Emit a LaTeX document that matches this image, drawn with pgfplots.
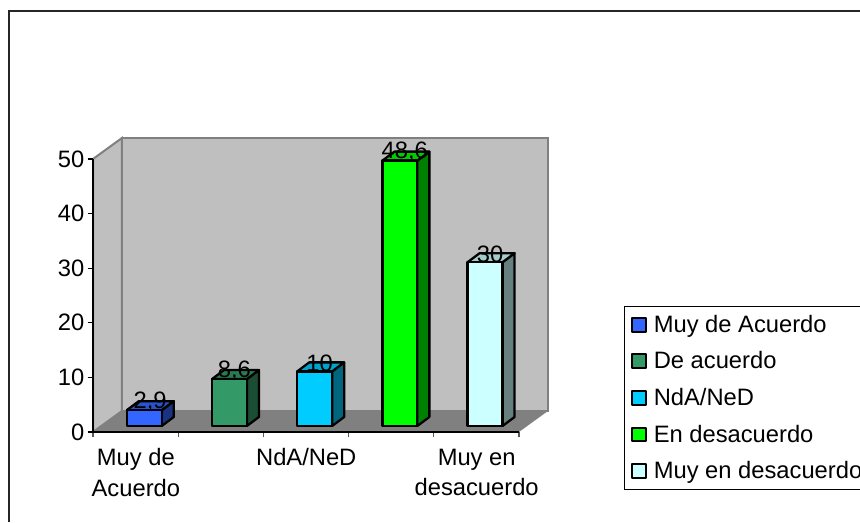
\documentclass[border=0pt]{standalone}
\usepackage{fontspec}
\setmainfont{Liberation Sans}
\usepackage{pgfplots}
\pgfplotsset{compat=1.18}
\definecolor{cA}{HTML}{3366FF}\definecolor{cAs}{HTML}{1A3380}\definecolor{cAt}{HTML}{2952CC}
\definecolor{cB}{HTML}{339966}\definecolor{cBs}{HTML}{1A4D33}\definecolor{cBt}{HTML}{297A52}
\definecolor{cC}{HTML}{00CCFF}\definecolor{cCs}{HTML}{006680}\definecolor{cCt}{HTML}{00A3CC}
\definecolor{cD}{HTML}{00FF00}\definecolor{cDs}{HTML}{008000}\definecolor{cDt}{HTML}{00CC00}
\definecolor{cE}{HTML}{CCFFFF}\definecolor{cEs}{HTML}{668080}\definecolor{cEt}{HTML}{A3CCCC}
\pgfplotsset{
  face/.style={draw=black,line width=1.7pt,line join=round},
  swatch/.style={legend image code/.code={\draw[##1,line width=1.5pt] (0pt,-5.2pt) rectangle (10.5pt,5.2pt);}},
}
\begin{document}
\begin{tikzpicture}
\draw[black!85,line width=1.3pt] (6.5pt,1pt) -- (6.5pt,384.2pt) -- (660pt,384.2pt);
\begin{axis}[
  at={(69.75pt,68.25pt)},anchor=south west,
  scale only axis,width=319.5pt,height=204.75pt,
  xmin=0,xmax=5,ymin=0,ymax=50,clip=false,axis on top,
  axis x line=bottom,axis y line=left,
  axis line style={-,black,line width=0.9pt},
  tick style={black,line width=0.9pt},
  x tick style={black!65,line width=0.8pt},
  major tick length=4pt,
  tick align=outside,
  xtick={0,1,2,3,4,5},xticklabels={},
  extra x ticks={0.5,2.5,4.5},
  extra x tick labels={Muy de\\Acuerdo,NdA/NeD,Muy en\\desacuerdo},
  extra x tick style={major tick length=0pt,tick style={draw=none},
    xticklabel style={align=center,yshift=-9pt,xshift=0.2pt}},
  ytick={0,10,20,30,40,50},
  /pgf/number format/assume math mode=true,
  tick label style={font=\fontsize{17.8pt}{23.2pt}\selectfont},
  yticklabel style={xshift=1pt},
  legend style={at={(1.2465,0.4615)},anchor=north west,draw=black,line width=0.9pt,
    font=\fontsize{17.8pt}{21pt}\selectfont,cells={anchor=west},
    row sep=9.0pt,inner xsep=4.5pt,inner ysep=4.5pt,legend columns=1,
    nodes={inner xsep=5.4pt}},
]
% walls and floor
\addplot[forget plot,fill=black!25,draw=black!50,line width=1.5pt]
  coordinates {(0,0)(0,50)(0.34,53.85)(0.34,3.85)} --cycle;
\addplot[forget plot,fill=black!25,draw=black!50,line width=1.5pt]
  coordinates {(0.34,3.85)(0.34,53.85)(5.34,53.85)(5.34,3.85)} --cycle;
\addplot[forget plot,fill=black!50,draw=none]
  coordinates {(0,0)(0.34,3.85)(5.34,3.85)(5,0)} --cycle;
% bar 1: 2.9
\addplot[forget plot,face,fill=cAs] coordinates {(0.807,1.1)(0.948,2.75)(0.948,5.65)(0.807,4.0)} --cycle;
\addplot[forget plot,face,fill=cAt] coordinates {(0.397,4.0)(0.538,5.65)(0.948,5.65)(0.807,4.0)} --cycle;
\addplot[face,fill=cA,swatch] coordinates {(0.397,1.1)(0.807,1.1)(0.807,4.0)(0.397,4.0)} --cycle;
% bar 2: 8.6
\addplot[forget plot,face,fill=cBs] coordinates {(1.807,1.1)(1.948,2.75)(1.948,11.35)(1.807,9.7)} --cycle;
\addplot[forget plot,face,fill=cBt] coordinates {(1.397,9.7)(1.538,11.35)(1.948,11.35)(1.807,9.7)} --cycle;
\addplot[face,fill=cB,swatch] coordinates {(1.397,1.1)(1.807,1.1)(1.807,9.7)(1.397,9.7)} --cycle;
% bar 3: 10
\addplot[forget plot,face,fill=cCs] coordinates {(2.807,1.1)(2.948,2.75)(2.948,12.75)(2.807,11.1)} --cycle;
\addplot[forget plot,face,fill=cCt] coordinates {(2.397,11.1)(2.538,12.75)(2.948,12.75)(2.807,11.1)} --cycle;
\addplot[face,fill=cC,swatch] coordinates {(2.397,1.1)(2.807,1.1)(2.807,11.1)(2.397,11.1)} --cycle;
% bar 4: 48.6
\addplot[forget plot,face,fill=cDs] coordinates {(3.807,1.1)(3.948,2.75)(3.948,51.35)(3.807,49.7)} --cycle;
\addplot[forget plot,face,fill=cDt] coordinates {(3.397,49.7)(3.538,51.35)(3.948,51.35)(3.807,49.7)} --cycle;
\addplot[face,fill=cD,swatch] coordinates {(3.397,1.1)(3.807,1.1)(3.807,49.7)(3.397,49.7)} --cycle;
% bar 5: 30
\addplot[forget plot,face,fill=cEs] coordinates {(4.807,1.1)(4.948,2.75)(4.948,32.75)(4.807,31.1)} --cycle;
\addplot[forget plot,face,fill=cEt] coordinates {(4.397,31.1)(4.538,32.75)(4.948,32.75)(4.807,31.1)} --cycle;
\addplot[face,fill=cE,swatch] coordinates {(4.397,1.1)(4.807,1.1)(4.807,31.1)(4.397,31.1)} --cycle;
% data labels
\addplot[forget plot,draw=none,mark=none,nodes near coords,point meta=explicit symbolic,
  every node near coord/.append style={anchor=center,font=\fontsize{17.8pt}{20pt}\selectfont,text=black,yshift=0pt}]
  table[meta=lab] {
x y lab
0.67 5.5 {2,9}
1.66 11.2 {8,6}
2.66 12.6 10
3.66 51.3 {48,6}
4.66 32.6 30
};
\legend{Muy de Acuerdo,De acuerdo,NdA/NeD,En desacuerdo,Muy en desacuerdo}
\end{axis}
\pgfresetboundingbox
\useasboundingbox (0pt,0pt) rectangle (645pt,392.25pt);
\end{tikzpicture}
\end{document}
